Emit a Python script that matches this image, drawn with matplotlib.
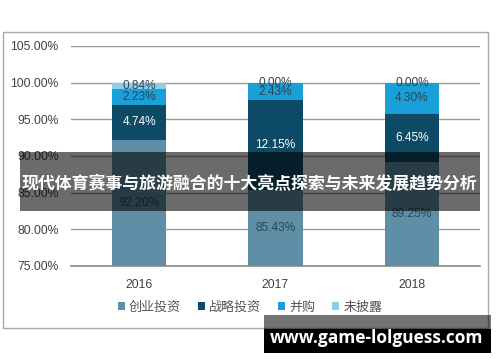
import matplotlib
matplotlib.use("Agg")
import matplotlib.pyplot as plt
from matplotlib.patches import Rectangle
import numpy as np

# data
years = ["2016", "2017", "2018"]
venture = [92.20, 85.43, 89.25]
strategic = [4.74, 12.15, 6.45]
mna = [2.23, 2.43, 4.30]
undisclosed = [0.84, 0.00, 0.00]
series_names = ["创业投资", "战略投资", "并购", "未披露"]
colors = ["#5e8fa6", "#0d4a66", "#1aa0d8", "#8ccfea"]
label_colors = ["#2a4656", "white", "#2a4656", "#2a4656"]
yticks = [75, 80, 85, 90, 95, 100, 105]

W, H = 500, 362
fig = plt.figure(figsize=(W / 100, H / 100), dpi=100)

def px(x0, y0, x1, y1):
    # pixel box (top-left origin) -> figure fraction
    return [x0 / W, 1 - y1 / H, (x1 - x0) / W, (y1 - y0) / H]

# outer frame of the chart image
fig.patches.append(Rectangle((3 / W, 1 - 328 / H), 485 / W, 296 / H,
                             transform=fig.transFigure, fill=False,
                             edgecolor="#a8a8a8", linewidth=1))

ax = fig.add_axes(px(71, 46, 480, 266))
x = np.arange(len(years))
data = [venture, strategic, mna, undisclosed]
bottom = np.zeros(len(years))
for i, vals in enumerate(data):
    vals = np.array(vals)
    ax.bar(x, vals, 0.4, bottom=bottom, color=colors[i], zorder=3,
           label=series_names[i])
    for j in range(len(years)):
        lo = max(bottom[j], 75)
        hi = bottom[j] + vals[j]
        yc = (lo + hi) / 2
        ax.text(x[j], yc, f"{vals[j]:.2f}%", ha="center", va="center",
                fontsize=8.6, family="Liberation Sans", color=label_colors[i],
                zorder=5)
    bottom += vals

ax.set_ylim(75, 105)
ax.set_xlim(-0.5, 2.5)
ax.set_yticks(yticks)
ax.set_yticklabels([f"{v:.2f}%" for v in yticks])
ax.set_xticks(x)
ax.set_xticklabels(years)
ax.grid(axis="y", color="#9a9a9a", linewidth=1, zorder=0)
for s in ["top", "right", "left"]:
    ax.spines[s].set_visible(False)
ax.spines["bottom"].set_color("#8a8a8a")
ax.spines["bottom"].set_linewidth(1.2)
ax.tick_params(length=0, labelsize=8.7, labelcolor="#404040", pad=9)
for t in ax.get_xticklabels() + ax.get_yticklabels():
    t.set_family("Liberation Sans")

fig.legend(loc="center", bbox_to_anchor=(250 / W, 1 - 307 / H), ncol=4,
           frameon=False, handlelength=0.55, handleheight=0.55,
           handletextpad=0.3, columnspacing=1.3,
           prop={"family": "Noto Sans CJK SC", "size": 9.4},
           labelcolor="#555555")

# dark banner with title
fig.patches.append(Rectangle((20 / W, 1 - 211 / H), 460 / W, 59 / H,
                             transform=fig.transFigure, facecolor="black",
                             alpha=0.58, zorder=10))
fig.text(249 / W, 1 - 184 / H, "现代体育赛事与旅游融合的十大亮点探索与未来发展趋势分析",
         ha="center", va="center", color="white", fontsize=12.2,
         fontweight="bold", family="Noto Sans CJK SC", zorder=11)

# watermark
fig.patches.append(Rectangle((264 / W, 1 - 329 / H), 227 / W, 14 / H,
                             transform=fig.transFigure, facecolor="black",
                             alpha=0.55, zorder=10))
fig.patches.append(Rectangle((264 / W, 1 - 353 / H), 227 / W, 24 / H,
                             transform=fig.transFigure, facecolor="black",
                             zorder=10))
fig.text(377 / W, 1 - 338 / H, "www.game-lolguess.com", ha="center",
         va="center", color="white", fontsize=12.5, fontweight="bold",
         family="Open Sans", zorder=11)

fig.savefig("out.png", dpi=100)
